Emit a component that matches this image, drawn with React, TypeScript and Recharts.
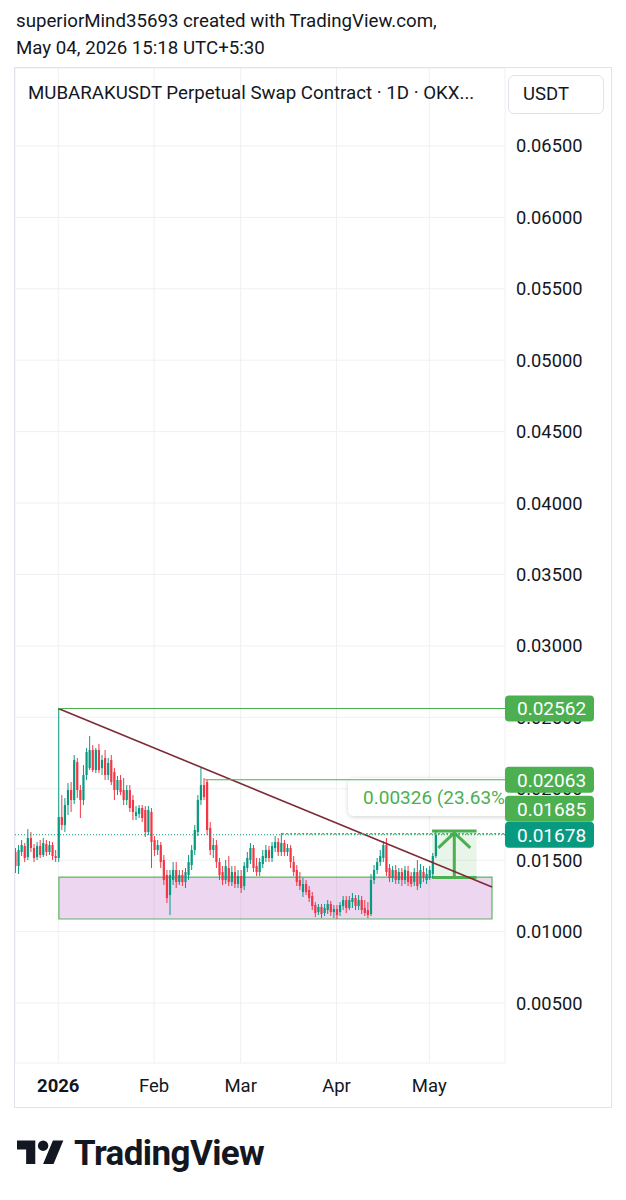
import React from "react";
import {
  ComposedChart,
  Bar,
  XAxis,
  YAxis,
  CartesianGrid,
  ReferenceLine,
  ReferenceArea,
} from "recharts";

// day index relative to 1 Jan 2026 of the first candle (18 Dec 2025)
const FIRST_DAY = -14;

// daily candles: [open, high, low, close]
const ohlc: [number, number, number, number][] = [
  [0.01557, 0.01585, 0.0141, 0.01459],
  [0.01459, 0.01606, 0.01403, 0.01571],
  [0.01557, 0.01641, 0.01529, 0.01606],
  [0.01599, 0.0162, 0.01487, 0.01515],
  [0.01522, 0.01718, 0.01501, 0.01655],
  [0.01655, 0.01697, 0.01557, 0.01585],
  [0.01585, 0.01613, 0.01487, 0.01515],
  [0.01522, 0.01627, 0.01501, 0.01599],
  [0.01599, 0.01641, 0.01515, 0.01536],
  [0.01536, 0.01655, 0.01522, 0.0162],
  [0.01613, 0.01641, 0.01529, 0.01557],
  [0.01557, 0.01634, 0.01536, 0.01606],
  [0.01606, 0.01627, 0.01501, 0.01529],
  [0.01529, 0.01571, 0.01487, 0.01515],
  // January
  [0.01515, 0.02562, 0.01487, 0.01802],
  [0.01802, 0.01956, 0.01711, 0.01746],
  [0.01746, 0.01935, 0.01697, 0.01886],
  [0.01886, 0.0204, 0.01816, 0.01991],
  [0.01991, 0.02047, 0.01837, 0.01921],
  [0.01921, 0.02236, 0.01893, 0.02201],
  [0.02187, 0.02215, 0.01935, 0.01991],
  [0.01991, 0.02026, 0.01795, 0.01921],
  [0.01921, 0.02166, 0.01886, 0.02096],
  [0.02096, 0.02285, 0.02061, 0.02257],
  [0.02145, 0.02369, 0.02131, 0.02271],
  [0.02271, 0.02306, 0.02117, 0.02131],
  [0.02131, 0.02285, 0.0211, 0.02271],
  [0.02271, 0.02313, 0.0211, 0.02131],
  [0.02145, 0.02236, 0.02096, 0.02201],
  [0.02215, 0.02271, 0.02061, 0.02096],
  [0.02096, 0.02215, 0.02061, 0.0218],
  [0.02201, 0.02236, 0.02026, 0.02047],
  [0.02117, 0.02145, 0.01921, 0.01991],
  [0.01991, 0.02089, 0.01956, 0.02061],
  [0.02061, 0.02096, 0.01956, 0.01977],
  [0.01991, 0.02075, 0.01886, 0.01921],
  [0.01921, 0.02026, 0.01886, 0.01991],
  [0.01991, 0.02026, 0.01837, 0.01865],
  [0.01921, 0.01956, 0.01781, 0.01837],
  [0.01809, 0.01879, 0.01781, 0.01837],
  [0.01823, 0.01886, 0.01795, 0.01865],
  [0.01865, 0.01886, 0.01767, 0.01795],
  [0.01851, 0.01879, 0.01662, 0.01697],
  [0.01697, 0.01879, 0.01676, 0.01851],
  [0.01837, 0.01865, 0.01445, 0.01627],
  // February
  [0.01641, 0.01669, 0.01529, 0.01571],
  [0.01571, 0.01641, 0.01536, 0.01606],
  [0.01606, 0.01627, 0.01445, 0.01487],
  [0.01501, 0.01536, 0.01326, 0.01361],
  [0.01396, 0.01431, 0.012, 0.01235],
  [0.01256, 0.01431, 0.01116, 0.01396],
  [0.01361, 0.01487, 0.01326, 0.01431],
  [0.01431, 0.01487, 0.01305, 0.01347],
  [0.01347, 0.01431, 0.01326, 0.01396],
  [0.01396, 0.01431, 0.01319, 0.01347],
  [0.01347, 0.01445, 0.01305, 0.01417],
  [0.01396, 0.01536, 0.01361, 0.01487],
  [0.01466, 0.01606, 0.01431, 0.01571],
  [0.01571, 0.01746, 0.01536, 0.01711],
  [0.01697, 0.01956, 0.01669, 0.01921],
  [0.01921, 0.02145, 0.01886, 0.02026],
  [0.02026, 0.02075, 0.01921, 0.01942],
  [0.02047, 0.02063, 0.01676, 0.01711],
  [0.01725, 0.01767, 0.01536, 0.01571],
  [0.01571, 0.01655, 0.01515, 0.01606],
  [0.01606, 0.01641, 0.01445, 0.01487],
  [0.01487, 0.01515, 0.01361, 0.01396],
  [0.01417, 0.01459, 0.01326, 0.01361],
  [0.01361, 0.01501, 0.01333, 0.01459],
  [0.01445, 0.01529, 0.01319, 0.01347],
  [0.01347, 0.01459, 0.01319, 0.01417],
  [0.01417, 0.01459, 0.01305, 0.01333],
  [0.01333, 0.01431, 0.01305, 0.01389],
  // March
  [0.01389, 0.01431, 0.0127, 0.01305],
  [0.01319, 0.01487, 0.01291, 0.01459],
  [0.01445, 0.01557, 0.01417, 0.01515],
  [0.01501, 0.0162, 0.01473, 0.01585],
  [0.01585, 0.01606, 0.01417, 0.01445],
  [0.01459, 0.01515, 0.01389, 0.01417],
  [0.01417, 0.01515, 0.01389, 0.01487],
  [0.01473, 0.01571, 0.01445, 0.01529],
  [0.01515, 0.01606, 0.01487, 0.01571],
  [0.01571, 0.01599, 0.01487, 0.01515],
  [0.01515, 0.01627, 0.01487, 0.01599],
  [0.01585, 0.01669, 0.01557, 0.01627],
  [0.01627, 0.01655, 0.01529, 0.01557],
  [0.01557, 0.0169, 0.01529, 0.0162],
  [0.0162, 0.01641, 0.01529, 0.01557],
  [0.01557, 0.01613, 0.01529, 0.01585],
  [0.01585, 0.01606, 0.01445, 0.01487],
  [0.01487, 0.01529, 0.01389, 0.01417],
  [0.01431, 0.01466, 0.01319, 0.01347],
  [0.01361, 0.01417, 0.01291, 0.01319],
  [0.01277, 0.01375, 0.01242, 0.01333],
  [0.01333, 0.01361, 0.01256, 0.01277],
  [0.01291, 0.01319, 0.01207, 0.01235],
  [0.01249, 0.01277, 0.01151, 0.01179],
  [0.01186, 0.01207, 0.01102, 0.0113],
  [0.01137, 0.01193, 0.01116, 0.01172],
  [0.01172, 0.01193, 0.01095, 0.01123],
  [0.0113, 0.01193, 0.01109, 0.01165],
  [0.01151, 0.01221, 0.01123, 0.01193],
  [0.01193, 0.01214, 0.01109, 0.01137],
  [0.01137, 0.01186, 0.01095, 0.01158],
  // April
  [0.01158, 0.01186, 0.01088, 0.01116],
  [0.01137, 0.01207, 0.01109, 0.01186],
  [0.01179, 0.01249, 0.01151, 0.01221],
  [0.01221, 0.01249, 0.0113, 0.01165],
  [0.01165, 0.01249, 0.01151, 0.01221],
  [0.01207, 0.0127, 0.01165, 0.01235],
  [0.01235, 0.01256, 0.01151, 0.01179],
  [0.01179, 0.01256, 0.01151, 0.01221],
  [0.01221, 0.01249, 0.01123, 0.01151],
  [0.01165, 0.01221, 0.01109, 0.0113],
  [0.01151, 0.01207, 0.01095, 0.01116],
  [0.01123, 0.01403, 0.01109, 0.01361],
  [0.01361, 0.01466, 0.01333, 0.01431],
  [0.01431, 0.01515, 0.01403, 0.01487],
  [0.01487, 0.01571, 0.01459, 0.01529],
  [0.01515, 0.01634, 0.01487, 0.01606],
  [0.01606, 0.01655, 0.01389, 0.01417],
  [0.01445, 0.01473, 0.01347, 0.01375],
  [0.01375, 0.01459, 0.01347, 0.01431],
  [0.01431, 0.01466, 0.01333, 0.01361],
  [0.01361, 0.01445, 0.01333, 0.01417],
  [0.01417, 0.01445, 0.01319, 0.01361],
  [0.01361, 0.01459, 0.01333, 0.01431],
  [0.01424, 0.01459, 0.01319, 0.01347],
  [0.01389, 0.01417, 0.01312, 0.01333],
  [0.01347, 0.01445, 0.01319, 0.01417],
  [0.01417, 0.01501, 0.01291, 0.01319],
  [0.01333, 0.01473, 0.01305, 0.01431],
  [0.01417, 0.01459, 0.01347, 0.01375],
  [0.01361, 0.01445, 0.01333, 0.01403],
  // May
  [0.01375, 0.01459, 0.01361, 0.01431],
  [0.01403, 0.0155, 0.01375, 0.01529],
  [0.01529, 0.01705, 0.01515, 0.01678],
];

const monthTicks = [0, 31, 59, 90, 120];
const monthLabels = ["2026", "Feb", "Mar", "Apr", "May"];
const priceTicks = [
  0.005, 0.01, 0.015, 0.02, 0.025, 0.03, 0.035, 0.04, 0.045, 0.05, 0.055, 0.06, 0.065,
];

const lastPrice = 0.01678;
const trendline = [
  { day: 0, price: 0.02562 },
  { day: 140.3, price: 0.01312 },
];
const rays = [
  { day: 0, price: 0.02562, tag: "0.02562", shift: 0, dashed: false },
  { day: 47.4, price: 0.02063, tag: "0.02063", shift: 0, dashed: false },
  { day: 72.4, price: 0.01685, tag: "0.01685", shift: -25, dashed: true },
];
const rangeBox = { from: 0.2, to: 140.3, low: 0.01088, high: 0.01382 };
const measure = { from: 120.9, to: 135.3, base: 0.01379, top: 0.01705 };
const measureText = "0.00326 (23.63%)";

const X_DOMAIN: [number, number] = [-14, 144.5];
const Y_DOMAIN: [number, number] = [0.0008, 0.07046];
const UP = "#089981";
const DOWN = "#f23645";
const TOOL = "#4caf50";
const INK = "#131722";

const candles = ohlc.map(([o, h, l, c], i) => ({
  day: FIRST_DAY + i,
  o,
  h,
  l,
  c,
  range: [l, h],
}));

const Candle = (props: any) => {
  const { x, y, width, height, payload } = props;
  if (x == null || !payload) return null;
  const cx = x + width / 2;
  const span = payload.h - payload.l || 1;
  const yOf = (v: number) => y + ((payload.h - v) / span) * height;
  const color = payload.c >= payload.o ? UP : DOWN;
  const top = yOf(Math.max(payload.o, payload.c));
  const bot = yOf(Math.min(payload.o, payload.c));
  return (
    <g>
      <line x1={cx} x2={cx} y1={y} y2={y + height} stroke={color} strokeWidth={1} />
      <rect x={cx - 1.1} y={top} width={2.2} height={Math.max(bot - top, 1)} fill={color} />
    </g>
  );
};

const PriceTag = (props: any) => {
  const { viewBox, text, fill, shift = 0 } = props;
  if (!viewBox) return null;
  const x = viewBox.x + viewBox.width;
  const y = viewBox.y + shift;
  return (
    <g>
      <rect x={x} y={y - 13} width={89} height={26} rx={4} fill={fill} />
      <text x={x + 12} y={y} dy="0.36em" fill="#fff" fontSize={19} fontFamily="Roboto">
        {text}
      </text>
    </g>
  );
};

const MeasureShape = (props: any) => {
  const { x, y, width, height } = props;
  if (x == null) return null;
  const mx = x + width / 2;
  return (
    <g>
      <rect x={x} y={y} width={width} height={height} fill={TOOL} fillOpacity={0.13} />
      <line x1={x} x2={x + width} y1={y} y2={y} stroke={TOOL} strokeWidth={3} />
      <line x1={x} x2={x + width} y1={y + height} y2={y + height} stroke={TOOL} strokeWidth={3} />
      <line x1={mx} x2={mx} y1={y + height} y2={y + 2} stroke={TOOL} strokeWidth={3} />
      <polyline
        points={`${mx - 16},${y + 17} ${mx},${y + 2} ${mx + 16},${y + 17}`}
        fill="none"
        stroke={TOOL}
        strokeWidth={3}
      />
    </g>
  );
};

const MeasureLabel = (props: any) => {
  const { viewBox } = props;
  if (!viewBox) return null;
  const left = viewBox.x - 84;
  const top = viewBox.y - 53;
  return (
    <svg x={left - 6} y={top - 6} width={163} height={52} overflow="hidden">
      <defs>
        <filter id="tipShadow" x="-20%" y="-40%" width="140%" height="180%">
          <feDropShadow dx="0" dy="1" stdDeviation="2" floodColor="#000" floodOpacity="0.18" />
        </filter>
      </defs>
      <rect x={6} y={6} width={200} height={38} rx={6} fill="#fff" filter="url(#tipShadow)" />
      <text x={21} y={25} dy="0.36em" fill={TOOL} fontSize={19} fontFamily="Roboto">
        {measureText}
      </text>
    </svg>
  );
};

const MonthTick = (props: any) => {
  const { x, y, payload } = props;
  const i = monthTicks.indexOf(payload.value);
  return (
    <text
      x={x}
      y={y + 29}
      textAnchor="middle"
      fill={INK}
      fontSize={18.5}
      fontFamily="Roboto"
      fontWeight={i === 0 ? 700 : 400}
    >
      {monthLabels[i]}
    </text>
  );
};

function TvLogo() {
  return (
    <div style={{ position: "absolute", left: 17, top: 1133, display: "flex", alignItems: "center" }}>
      <svg width={47} height={37} viewBox="0 0 36 28">
        <path d="M14 22H7V11H0V4h14v18zM28 22h-8l7.5-18h8L28 22z" fill={INK} />
        <circle cx={20} cy={8} r={4} fill={INK} />
      </svg>
      <span
        style={{
          marginLeft: 10,
          fontSize: 35,
          fontWeight: 700,
          letterSpacing: -0.6,
          color: INK,
          fontFamily: "Roboto",
        }}
      >
        TradingView
      </span>
    </div>
  );
}

export default function App() {
  return (
    <div
      style={{
        position: "absolute",
        left: 0,
        top: 0,
        width: 626,
        height: 1200,
        background: "#fff",
        fontFamily: "Roboto, sans-serif",
        color: INK,
      }}
    >
      <div style={{ position: "absolute", left: 16, top: 8, fontSize: 18.7, lineHeight: "27px" }}>
        superiorMind35693 created with TradingView.com,
        <br />
        May 04, 2026 15:18 UTC+5:30
      </div>

      <div
        style={{
          position: "absolute",
          left: 14,
          top: 67,
          width: 598,
          height: 1041,
          border: "1px solid #e0e3eb",
          boxSizing: "border-box",
        }}
      />

      {/* main pane: grid, axes, box, candles, trendline */}
      <div style={{ position: "absolute", left: 15, top: 68 }}>
        <ComposedChart
          width={595}
          height={1039}
          data={candles}
          margin={{ top: 0, right: 0, bottom: 0, left: 0 }}
        >
          <CartesianGrid stroke="#eef0f3" />
          <XAxis
            dataKey="day"
            type="number"
            domain={X_DOMAIN}
            allowDataOverflow
            ticks={monthTicks}
            interval={0}
            height={44}
            axisLine={false}
            tickLine={false}
            tickSize={0}
            tickMargin={0}
            tick={<MonthTick />}
          />
          <YAxis
            orientation="right"
            type="number"
            domain={Y_DOMAIN}
            allowDataOverflow
            ticks={priceTicks}
            interval={0}
            width={105}
            axisLine={false}
            tickLine={false}
            tickSize={0}
            tickMargin={11}
            tickFormatter={(v: number) => v.toFixed(5)}
            tick={{ fill: INK, fontSize: 18.3, fontFamily: "Roboto" }}
          />
          <ReferenceArea
            x1={rangeBox.from}
            x2={rangeBox.to}
            y1={rangeBox.low}
            y2={rangeBox.high}
            fill="#ce93d8"
            fillOpacity={0.38}
            stroke={TOOL}
            strokeWidth={1.2}
            strokeOpacity={0.9}
          />
          <ReferenceArea
            x1={measure.from}
            x2={measure.to}
            y1={measure.base}
            y2={measure.top}
            shape={<MeasureShape />}
          />
          <Bar dataKey="range" barSize={2} shape={<Candle />} isAnimationActive={false} />
          <ReferenceLine
            segment={[
              { x: trendline[0].day, y: trendline[0].price },
              { x: trendline[1].day, y: trendline[1].price },
            ]}
            stroke="#7d2a37"
            strokeWidth={1.6}
          />
        </ComposedChart>
      </div>

      {/* overlay pane: horizontal rays and their price tags drawn above the axis labels */}
      <div style={{ position: "absolute", left: 15, top: 68, pointerEvents: "none" }}>
        <ComposedChart
          width={595}
          height={1039}
          data={candles}
          margin={{ top: 0, right: 105, bottom: 44, left: 0 }}
        >
          <XAxis dataKey="day" type="number" domain={X_DOMAIN} allowDataOverflow hide height={0} />
          <YAxis type="number" domain={Y_DOMAIN} allowDataOverflow hide width={0} />
          <ReferenceLine
            y={lastPrice}
            stroke={UP}
            strokeDasharray="1 2"
            strokeWidth={1}
            label={<PriceTag text={lastPrice.toFixed(5)} fill={UP} />}
          />
          {rays.map((r) => (
            <ReferenceLine
              key={r.tag}
              segment={[
                { x: r.day, y: r.price },
                { x: X_DOMAIN[1], y: r.price },
              ]}
              stroke={TOOL}
              strokeWidth={r.dashed ? 1.5 : 1.2}
              strokeDasharray={r.dashed ? "2 2" : undefined}
              label={<PriceTag text={r.tag} fill={TOOL} shift={r.shift} />}
            />
          ))}
          <ReferenceArea
            x1={measure.from}
            x2={measure.to}
            y1={measure.base}
            y2={measure.top}
            fillOpacity={0}
            strokeOpacity={0}
            label={<MeasureLabel />}
          />
        </ComposedChart>
      </div>

      <div
        style={{
          position: "absolute",
          left: 28,
          top: 80,
          fontSize: 18.7,
          lineHeight: "26px",
          whiteSpace: "nowrap",
        }}
      >
        MUBARAKUSDT Perpetual Swap Contract · 1D · OKX...
      </div>
      <div
        style={{
          position: "absolute",
          left: 508,
          top: 75,
          width: 96,
          height: 39,
          border: "1px solid #e0e3eb",
          borderRadius: 6,
          background: "#fff",
          boxSizing: "border-box",
          fontSize: 18.5,
          lineHeight: "37px",
          paddingLeft: 14,
        }}
      >
        USDT
      </div>

      <TvLogo />
    </div>
  );
}
